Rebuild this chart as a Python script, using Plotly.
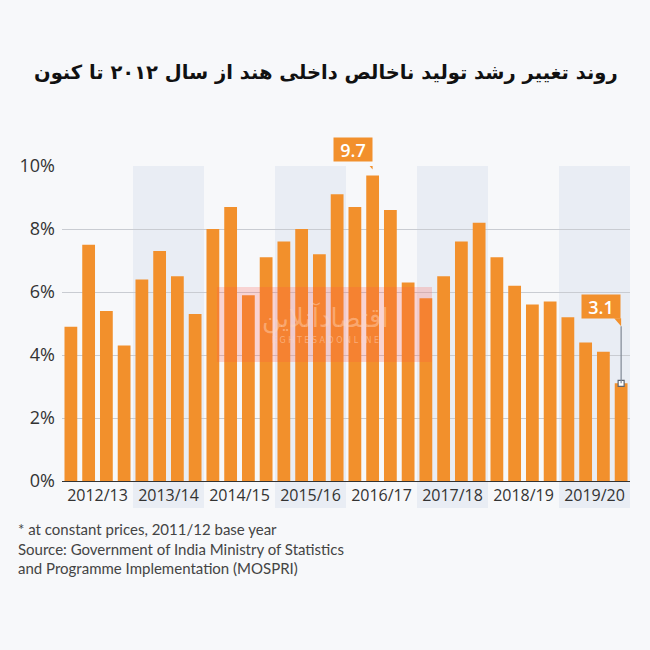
import plotly.graph_objects as go

years = ["2012/13", "2013/14", "2014/15", "2015/16", "2016/17", "2017/18", "2018/19", "2019/20"]
quarters = ["Q1", "Q2", "Q3", "Q4"]
growth = [4.9, 7.5, 5.4, 4.3,
          6.4, 7.3, 6.5, 5.3,
          8.0, 8.7, 5.9, 7.1,
          7.6, 8.0, 7.2, 9.1,
          8.7, 9.7, 8.6, 6.3,
          5.8, 6.5, 7.6, 8.2,
          7.1, 6.2, 5.6, 5.7,
          5.2, 4.4, 4.1, 3.1]
labels = [f"{q} {y}" for y in years for q in quarters]
y_ticks = [0, 2, 4, 6, 8, 10]
title_text = "روند تغییر رشد تولید ناخالص داخلی هند از سال ۲۰۱۲ تا کنون"
note_text = "* at constant prices, 2011/12 base year<br>Source: Government of India Ministry of Statistics<br>and Programme Implementation (MOSPRI)"

ORANGE = "#f2902c"
BG = "#f7f8fa"
BAND = "#e9edf4"

xs = list(range(len(growth)))
fig = go.Figure()
fig.add_trace(go.Bar(x=xs, y=growth, marker_color=ORANGE, marker_line_width=0,
                     hovertext=labels, showlegend=False))

shapes = []
# alternating year bands
for i, y in enumerate(years):
    if i % 2 == 1:
        shapes.append(dict(type="rect", xref="x", yref="paper",
                           x0=i * 4 - 0.5, x1=i * 4 + 3.5, y0=-0.086, y1=1,
                           fillcolor=BAND, line_width=0, layer="below"))

# callouts: max and last
imax = growth.index(max(growth))
ilast = len(growth) - 1
annotations = []
for idx, gap in [(imax, 13), (ilast, 64)]:
    val = growth[idx]
    annotations.append(dict(x=idx, y=val, xref="x", yref="y", text=f"{val}",
                            showarrow=False, xanchor="right", yanchor="bottom",
                            yshift=gap, bgcolor=ORANGE, width=36, height=21, borderpad=1,
                            font=dict(family="Open Sans", size=18, color="white", weight=600)))
    shapes.append(dict(type="path", xref="x", yref="y", xsizemode="pixel", ysizemode="pixel",
                       xanchor=idx, yanchor=val,
                       path=f"M -7 {gap + 1} L 0 {gap + 1} L 0 {gap - 7} Z",
                       fillcolor=ORANGE, line_width=0))
    if gap > 20:
        shapes.append(dict(type="line", xref="x", yref="y", xsizemode="pixel", ysizemode="pixel",
                           xanchor=idx, yanchor=val, x0=0, x1=0, y0=0, y1=gap - 7,
                           line=dict(color="#7f8894", width=1.2)))
        fig.add_trace(go.Scatter(x=[idx], y=[val], mode="markers", showlegend=False,
                                 marker=dict(symbol="square", size=6, color="white",
                                             line=dict(color="#5f6670", width=1.2))))

# watermark
shapes.append(dict(type="rect", xref="paper", yref="paper",
                   x0=(217 - 62) / 568, x1=(432 - 62) / 568,
                   y0=(481 - 362) / 315, y1=(481 - 287) / 315,
                   fillcolor="rgba(255,80,70,0.22)", line_width=0, layer="above"))
annotations.append(dict(xref="paper", yref="paper", x=(325 - 62) / 568, y=(481 - 318) / 315,
                        text="اقتصادآنلاین", showarrow=False,
                        font=dict(family="DejaVu Sans", size=26, color="rgba(255,215,190,0.45)")))
annotations.append(dict(xref="paper", yref="paper", x=(325 - 62) / 568, y=(481 - 340) / 315,
                        text="E G H T E S A D O N L I N E", showarrow=False,
                        font=dict(family="DejaVu Sans", size=8, color="rgba(255,215,190,0.5)")))

annotations.append(dict(xref="paper", yref="paper", x=(16 - 62) / 568, y=(481 - 518) / 315,
                        xanchor="left", yanchor="top", align="left", showarrow=False,
                        text=note_text,
                        font=dict(family="Lato", size=15, color="#444444")))

# title as annotation
annotations.append(dict(xref="paper", yref="paper", x=(326 - 62) / 568, y=(481 - 73) / 315,
                        xanchor="center", yanchor="middle", showarrow=False,
                        text=f"<b>{title_text}</b>",
                        font=dict(family="DejaVu Sans", size=19.5, color="#111111")))

fig.update_layout(
    width=650, height=650,
    margin=dict(l=62, r=20, t=166, b=169),
    paper_bgcolor=BG, plot_bgcolor=BG,
    bargap=0.28,
    shapes=shapes, annotations=annotations,
    xaxis=dict(range=[-0.5, len(growth) - 0.5], tickvals=[i * 4 + 1.5 for i in range(len(years))],
               ticktext=years, showgrid=False, zeroline=False, ticks="",
               showline=True, linecolor="#333333", linewidth=1.2,
               tickfont=dict(family="Open Sans", size=16, color="#333333")),
    yaxis=dict(range=[0, 10], tickvals=y_ticks, ticktext=[f"{v}%" for v in y_ticks],
               showgrid=True, gridcolor="#c9ccd2", gridwidth=1, zeroline=False,
               ticks="", ticklabelstandoff=6,
               tickfont=dict(family="Open Sans", size=18, color="#333333")),
)

fig.write_html("out.html")
